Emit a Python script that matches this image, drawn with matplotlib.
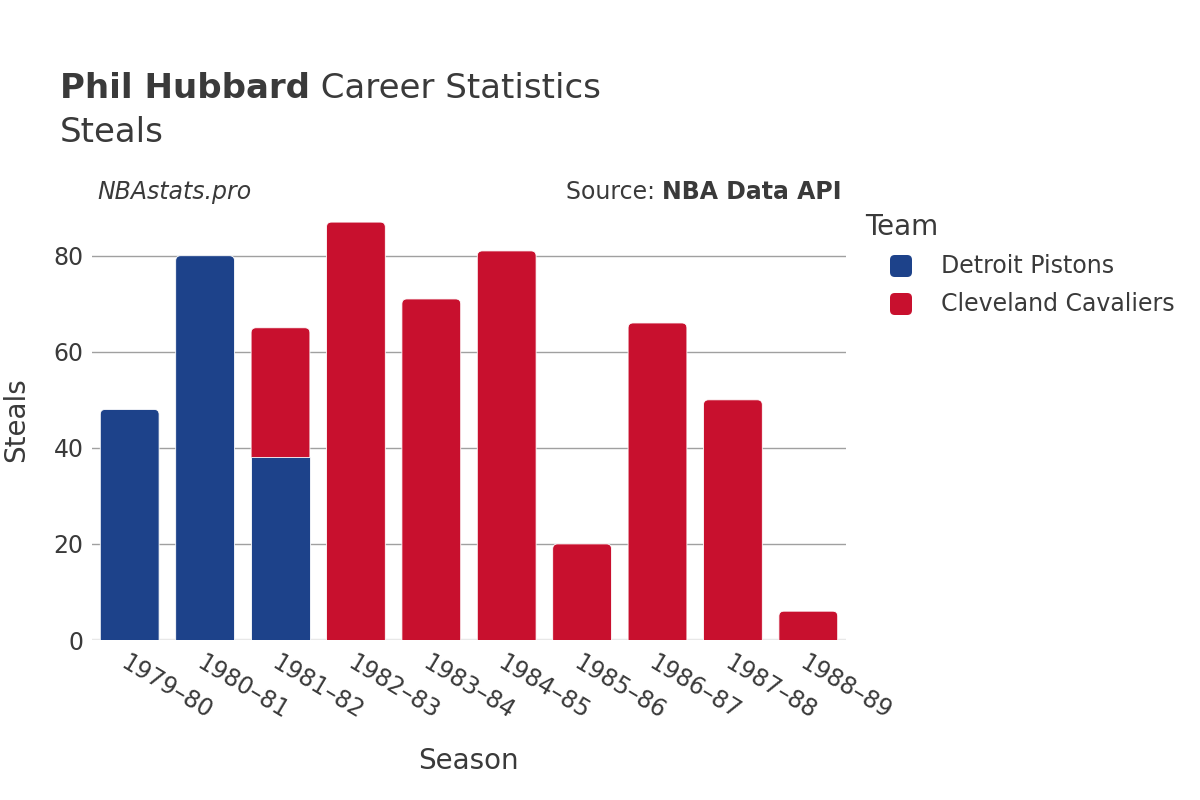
import matplotlib.pyplot as plt
from matplotlib.patches import FancyBboxPatch, Rectangle

seasons = ["1979–80", "1980–81", "1981–82", "1982–83", "1983–84",
           "1984–85", "1985–86", "1986–87", "1987–88", "1988–89"]
teams = ["Detroit Pistons", "Cleveland Cavaliers"]
pistons_steals = [48, 80, 38, 0, 0, 0, 0, 0, 0, 0]
cavaliers_steals = [0, 0, 27, 87, 71, 81, 20, 66, 50, 6]
team_colors = ["#1d428a", "#c8102e"]

text_color = "#3a3a3a"
bar_width = 0.78
y_max = 91.6

ax_left, ax_right = 92, 846
fig = plt.figure(figsize=(12, 8), dpi=100)
ax = fig.add_axes([ax_left / 1200, 160 / 800, (ax_right - ax_left) / 1200, 440 / 800])
ax.set_xlim(-0.5, len(seasons) - 0.5)
ax.set_ylim(0, y_max)

# data units per pixel, used to keep the rounded corners circular
x_per_px = len(seasons) / (ax_right - ax_left)
y_per_px = y_max / 440
rounding = 5 * x_per_px

for i, season in enumerate(seasons):
    segments = [(pistons_steals[i], team_colors[0]), (cavaliers_steals[i], team_colors[1])]
    segments = [s for s in segments if s[0] > 0]
    bottom = 0
    placed = []
    for value, color in segments:
        placed.append((bottom, value, color))
        bottom += value
    for k, (b, v, color) in enumerate(placed):
        left = i - bar_width / 2
        if k == len(placed) - 1:
            ext = rounding * (y_per_px / x_per_px)
            patch = FancyBboxPatch((left, b - ext), bar_width, v + ext,
                                   boxstyle=f"round,pad=0,rounding_size={rounding}",
                                   mutation_aspect=y_per_px / x_per_px,
                                   facecolor=color, edgecolor="white", linewidth=0.6,
                                   zorder=2)
        else:
            patch = Rectangle((left, b), bar_width, v, facecolor=color,
                              edgecolor="white", linewidth=0.6, zorder=3)
        ax.add_patch(patch)

ax.set_yticks([0, 20, 40, 60, 80])
ax.yaxis.grid(True, color="#a0a0a0", linewidth=1)
ax.set_axisbelow(True)
for spine in ax.spines.values():
    spine.set_visible(False)
ax.axhline(0, color="#e8e8e8", linewidth=2.5, zorder=1)
ax.tick_params(axis="both", length=0, labelsize=17, colors=text_color)
ax.tick_params(axis="y", pad=6)
ax.set_xticks(range(len(seasons)))
ax.set_xticklabels(seasons, rotation=-31, ha="left", va="top", rotation_mode="anchor")
ax.tick_params(axis="x", pad=8)

ax.set_xlabel("Season", fontsize=20, color=text_color)
ax.xaxis.set_label_coords((468 - ax_left) / (ax_right - ax_left), -(747 - 640) / 440)
ax.set_ylabel("Steals", fontsize=20, color=text_color)
ax.yaxis.set_label_coords(-(ax_left - 30) / (ax_right - ax_left), 0.5)

title_y = 1 - 89 / 800
name = fig.text(60 / 1200, title_y, "Phil Hubbard", fontsize=24.5, fontweight="bold",
                color=text_color, va="center", ha="left")
fig.text(60 / 1200, 1 - 133 / 800, "Steals", fontsize=24.5, color=text_color,
         va="center", ha="left")

fig.text(97 / 1200, 1 - 192 / 800, "NBAstats.pro", fontsize=17, style="italic",
         color=text_color, va="center", ha="left")
src_label = fig.text(842 / 1200, 1 - 192 / 800, "Source: ", fontsize=17, color=text_color,
                     va="center", ha="right")
src = fig.text(842 / 1200, 1 - 192 / 800, "NBA Data API", fontsize=17, fontweight="bold",
               color=text_color, va="center", ha="right")

fig.canvas.draw()
renderer = fig.canvas.get_renderer()
src_label.set_x(src.get_window_extent(renderer).x0 / 1200)
name_end = name.get_window_extent(renderer).x1
fig.text(name_end / 1200, title_y, " Career Statistics", fontsize=24.5,
         color=text_color, va="center", ha="left")

fig.text(865 / 1200, 1 - 227 / 800, "Team", fontsize=20, color=text_color,
         va="center", ha="left")
for j, team in enumerate(teams):
    y = 1 - (266 + 38 * j) / 800
    fig.patches.append(FancyBboxPatch((890 / 1200, y - 11 / 800), 22 / 1200, 22 / 800,
                                      boxstyle="round,pad=0,rounding_size=0.004",
                                      mutation_aspect=1.5,
                                      transform=fig.transFigure, facecolor=team_colors[j],
                                      edgecolor="none", figure=fig))
    fig.text(941 / 1200, y, team, fontsize=17, color=text_color, va="center", ha="left")

fig.savefig("out.png", dpi=100, facecolor="white")
